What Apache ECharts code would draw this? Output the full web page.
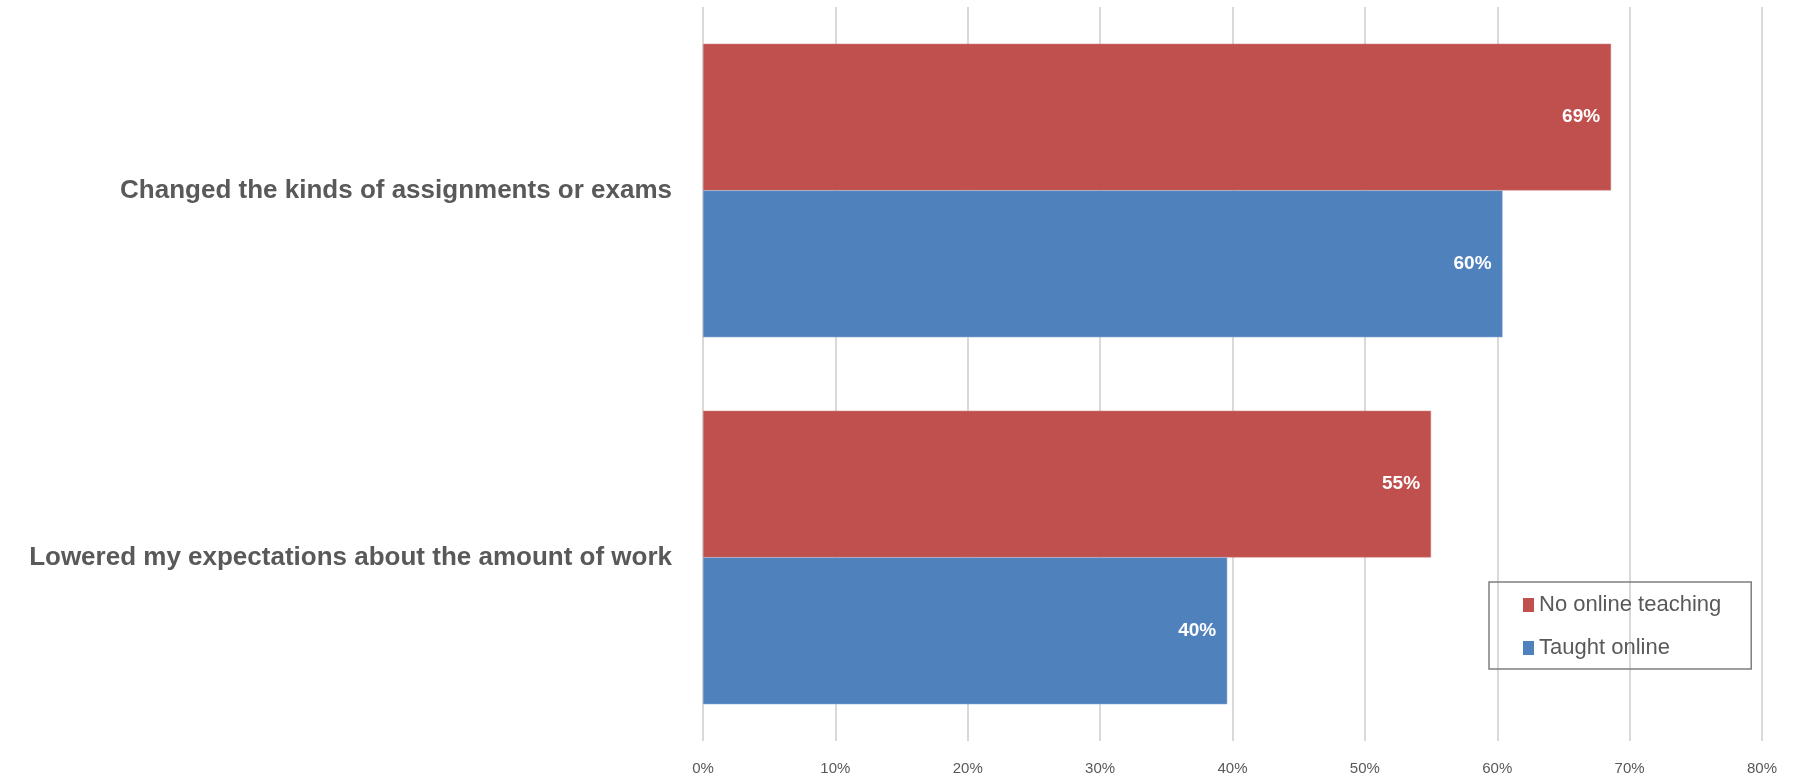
<!DOCTYPE html>
<html>
<head>
<meta charset="utf-8">
<script src="https://cdn.jsdelivr.net/npm/echarts@6/dist/echarts.min.js"></script>
<style>
  html, body { margin: 0; padding: 0; background: #fff; }
  #chart { width: 1797px; height: 779px; }
</style>
</head>
<body>
<div id="chart"></div>
<script>
// Survey responses: share of instructors reporting each change
const categories = [
  'Changed the kinds of assignments or exams',
  'Lowered my expectations about the amount of work'
];
const seriesNames = ['No online teaching', 'Taught online'];
const noOnlineTeaching = [68.6, 55.0];
const taughtOnline = [60.4, 39.6];
const xTicks = [0, 10, 20, 30, 40, 50, 60, 70, 80];

const FONT = '"Liberation Sans Narrow", "Liberation Sans", sans-serif';
const TEXT = '#595959';

const chart = echarts.init(document.getElementById('chart'), null, { renderer: 'canvas' });

const valueLabel = {
  show: true,
  position: 'insideRight',
  distance: 11,
  color: '#ffffff',
  fontFamily: FONT,
  fontWeight: 'bold',
  fontSize: 19,
  formatter: p => Math.round(p.value) + '%'
};

chart.setOption({
  animation: false,
  backgroundColor: '#ffffff',
  grid: { left: 703, right: 35, top: 7, bottom: 38, containLabel: false },
  xAxis: {
    type: 'value',
    min: xTicks[0],
    max: xTicks[xTicks.length - 1],
    interval: 10,
    axisLine: { show: false },
    axisTick: { show: false },
    splitLine: { show: true, lineStyle: { color: '#D9D9D9', width: 2 } },
    axisLabel: {
      color: TEXT,
      fontFamily: FONT,
      fontSize: 15,
      margin: 20,
      formatter: v => v + '%'
    }
  },
  yAxis: {
    type: 'category',
    data: categories,
    inverse: true,
    axisLine: { show: false },
    axisTick: { show: false },
    splitLine: { show: false },
    axisLabel: {
      color: TEXT,
      fontFamily: FONT,
      fontWeight: 'bold',
      fontSize: 26,
      margin: 31
    }
  },
  legend: {
    orient: 'vertical',
    left: 1489,
    top: 582,
    padding: [12, 30, 10, 34],
    borderColor: '#7F7F7F',
    borderWidth: 1.5,
    itemWidth: 11,
    itemHeight: 14,
    itemGap: 21,
    icon: 'rect',
    itemStyle: { borderWidth: 0 },
    data: seriesNames,
    textStyle: {
      color: TEXT,
      fontFamily: FONT,
      fontSize: 22,
      lineHeight: 20,
      padding: [0, 0, 0, 0]
    }
  },
  series: [
    {
      name: seriesNames[0],
      type: 'bar',
      data: noOnlineTeaching,
      barGap: '0%',
      barCategoryGap: '20%',
      itemStyle: { color: '#C0504D', borderColor: '#D58A88', borderWidth: 0.5 },
      label: valueLabel
    },
    {
      name: seriesNames[1],
      type: 'bar',
      data: taughtOnline,
      barGap: '0%',
      barCategoryGap: '20%',
      itemStyle: { color: '#4F81BD', borderColor: '#8AA9D4', borderWidth: 0.5 },
      label: valueLabel
    }
  ]
});
</script>
</body>
</html>
